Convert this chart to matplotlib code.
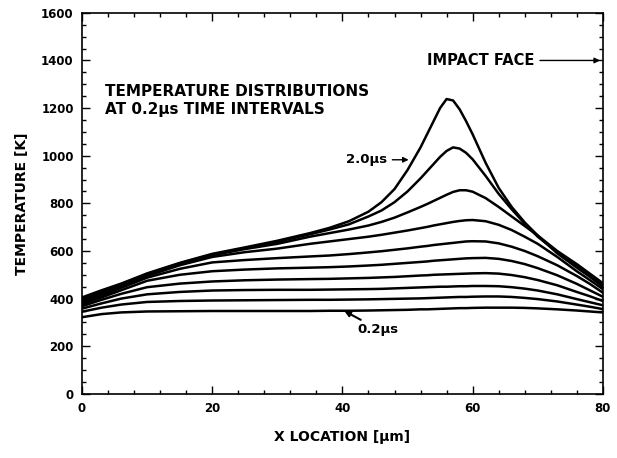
import matplotlib
matplotlib.use("Agg")
import matplotlib.pyplot as plt
from matplotlib.ticker import MultipleLocator

plt.rcParams['font.family'] = ['DejaVu Sans']
plt.rcParams['font.weight'] = 'bold'

# x locations (um) where the curves were read
x_loc = [0, 3, 6, 10, 15, 20, 25, 30, 35, 38, 41, 44, 46, 48, 50, 52, 53, 54,
         55, 56, 57, 58, 59, 60, 62, 64, 66, 68, 70, 73, 76, 78, 80]

# temperatures (K), 0.2 us ... 2.0 us
t_02 = [322, 335, 342, 346, 347, 348, 348, 348, 348, 349, 349, 350, 351, 352,
        353, 355, 355, 356, 357, 358, 359, 360, 360, 361, 362, 362, 362, 361,
        359, 355, 350, 346, 342]
t_04 = [345, 362, 375, 386, 390, 392, 393, 394, 395, 395, 396, 397, 398, 399,
        400, 401, 402, 403, 404, 405, 406, 407, 407, 408, 409, 409, 407, 403,
        398, 388, 375, 366, 356]
t_06 = [358, 380, 400, 418, 428, 434, 436, 437, 437, 438, 439, 440, 441, 443,
        445, 447, 448, 449, 450, 450, 451, 452, 452, 453, 453, 452, 448, 442,
        434, 418, 398, 385, 372]
t_08 = [368, 395, 420, 448, 463, 472, 477, 480, 482, 483, 485, 487, 489, 491,
        494, 497, 498, 500, 501, 502, 503, 504, 505, 506, 507, 505, 499, 490,
        478, 456, 428, 410, 390]
t_10 = [376, 405, 435, 475, 500, 515, 522, 527, 530, 532, 535, 539, 542, 546,
        550, 554, 556, 559, 561, 563, 565, 567, 569, 570, 571, 567, 558, 545,
        528, 498, 462, 435, 408]
t_12 = [384, 412, 445, 488, 525, 552, 562, 570, 577, 581, 587, 594, 599, 605,
        611, 618, 621, 625, 628, 631, 634, 637, 640, 641, 640, 632, 618, 600,
        578, 540, 495, 462, 425]
t_14 = [390, 420, 452, 495, 540, 575, 595, 610, 630, 640, 650, 660, 668, 677,
        686, 696, 701, 707, 712, 717, 722, 726, 729, 730, 725, 710, 688, 660,
        630, 575, 515, 478, 440]
t_16 = [395, 425, 457, 500, 545, 582, 608, 630, 660, 675, 690, 707, 722, 740,
        762, 785, 797, 810, 823, 836, 848, 855, 855, 849, 822, 785, 745, 705,
        665, 590, 530, 492, 450]
t_18 = [400, 430, 460, 503, 548, 585, 612, 638, 670, 690, 712, 745, 770, 805,
        850, 905, 935, 965, 995, 1020, 1035, 1030, 1012, 985, 915, 840, 775,
        715, 660, 595, 540, 500, 458]
t_20 = [405, 435, 463, 506, 550, 588, 615, 643, 675, 697, 725, 765, 805, 860,
        940, 1035, 1090, 1145, 1200, 1238, 1232, 1195, 1145, 1090, 970, 865,
        785, 720, 665, 600, 545, 505, 465]

curves = [t_02, t_04, t_06, t_08, t_10, t_12, t_14, t_16, t_18, t_20]

fig = plt.figure(figsize=(6.17, 4.58), dpi=100)
ax = fig.add_axes([0.133, 0.140, 0.844, 0.832])

for t in curves:
    ax.plot(x_loc, t, color='black', lw=1.8, solid_joinstyle='round')

ax.set_xlim(0, 80)
ax.set_ylim(0, 1600)
ax.xaxis.set_major_locator(MultipleLocator(20))
ax.xaxis.set_minor_locator(MultipleLocator(4))
ax.yaxis.set_major_locator(MultipleLocator(200))
ax.yaxis.set_minor_locator(MultipleLocator(50))
ax.tick_params(which='both', direction='in', top=True, right=True,
               labelsize=8.5, width=1)
ax.tick_params(which='major', length=6, pad=6)
ax.tick_params(which='minor', length=3)
for lab in ax.get_xticklabels() + ax.get_yticklabels():
    lab.set_fontweight('bold')
for s in ax.spines.values():
    s.set_linewidth(1.2)

ax.set_xlabel("X LOCATION [μm]", fontsize=10, fontweight='bold', labelpad=11)
ax.set_ylabel("TEMPERATURE [K]", fontsize=10, fontweight='bold', labelpad=9)

ax.text(3.5, 1302, "TEMPERATURE DISTRIBUTIONS\nAT 0.2μs TIME INTERVALS",
        fontsize=11, fontweight='bold', va='top', linespacing=1.3)

ax.annotate("IMPACT FACE", xy=(80, 1400), xytext=(53, 1400),
            fontsize=10.5, fontweight='bold', va='center',
            arrowprops=dict(arrowstyle='-|>', color='black', lw=1,
                            mutation_scale=8))
ax.annotate("2.0μs", xy=(50.6, 983), xytext=(40.5, 983),
            fontsize=9.5, fontweight='bold', va='center',
            arrowprops=dict(arrowstyle='-|>', color='black', lw=1,
                            mutation_scale=8))
ax.annotate("0.2μs", xy=(40.3, 348), xytext=(42.3, 272),
            fontsize=9.5, fontweight='bold', va='center',
            arrowprops=dict(arrowstyle='-|>', color='black', lw=1.5,
                            mutation_scale=8, shrinkA=0, shrinkB=0))

fig.savefig("out.png", dpi=100)
